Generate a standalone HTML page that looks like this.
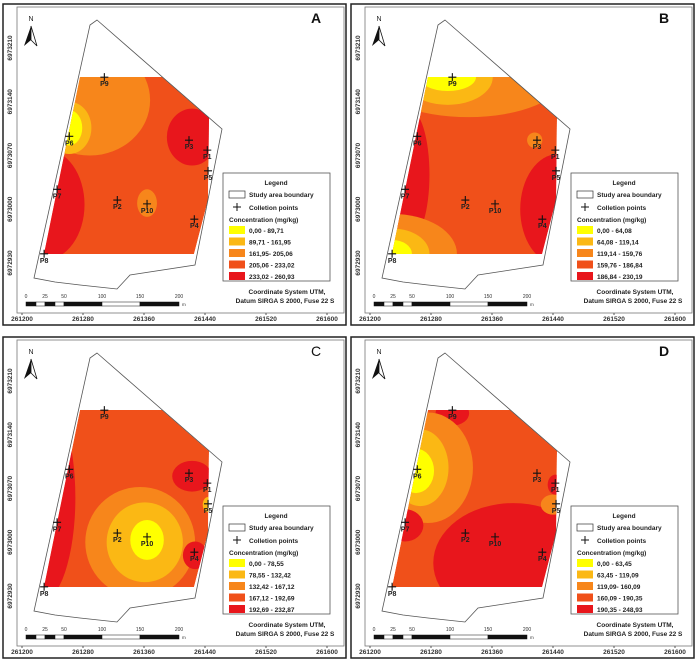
<!DOCTYPE html>
<html><head><meta charset="utf-8"><style>
html,body{margin:0;padding:0;background:#fff;}
svg{display:block;font-family:"Liberation Sans",Arial,sans-serif;}
</style></head><body>
<svg id="fig" width="700" height="665" viewBox="0 0 700 665"></svg>
<script>
// ---- data ----
const panelLetters = ["A","B","C","D"];
const panelOffsetsX = [0,348,0,348];
const panelOffsetsY = [0,0,333,333];
const classColors = ["#ffff00","#fbb814","#f7861b","#f0501a","#e8161c"];
const legendA = ["0,00 - 89,71","89,71 - 161,95","161,95- 205,06","205,06 - 233,02","233,02 - 260,93"];
const legendB = ["0,00 - 64,08","64,08 - 119,14","119,14 - 159,76","159,76 - 186,84","186,84 - 230,19"];
const legendC = ["0,00 - 78,55","78,55 - 132,42","132,42 - 167,12","167,12 - 192,69","192,69 - 232,87"];
const legendD = ["0,00 - 63,45","63,45 - 119,09","119,09- 160,09","160,09 - 190,35","190,35 - 248,93"];
const pointNames = ["P1","P2","P3","P4","P5","P6","P7","P8","P9","P10"];
const pointEasting = [261443,261325,261419,261426,261444,261262,261246,261229,261308,261364];
const pointNorthing = [6973077,6973012,6973090,6972987,6973050,6973095,6973026,6972942,6973172,6973007];
const xTicks = [261200,261280,261360,261440,261520,261600];
const yTicks = [6973210,6973140,6973070,6973000,6972930];
const baseClass = [3,3,3,3];
// contour blobs per panel: class, center easting, center northing, radius east (m), radius north (m)
const blobsA = [[2,261289,6973142,79,72],[1,261262,6973106,29,34],[0,261262,6973106,17,23],[4,261423,6973094,33,37],[4,261230,6973006,52,72],[2,261364,6973008,13,18]];
const blobsB = [[2,261329,6973172,125,52],[1,261302,6973172,59,36],[0,261302,6973172,37,18],[4,261252,6973045,26,85],[4,261447,6973000,50,72],[2,261416,6973090,10,10],[2,261229,6972942,85,52],[1,261229,6972942,49,33],[0,261229,6972942,26,18]];
const blobsC = [[4,261224,6973058,46,137],[2,261355,6973000,72,72],[1,261361,6973000,50,52],[0,261364,6973003,22,26],[4,261423,6973086,26,20],[4,261427,6972983,16,18],[1,261444,6973049,7,10]];
const blobsD = [[4,261308,6973168,22,16],[2,261276,6973097,59,72],[1,261266,6973097,37,50],[0,261260,6973093,24,29],[4,261388,6972973,105,78],[4,261246,6973022,24,21],[4,261443,6973075,10,13],[2,261440,6973049,16,13]];
const legends = [legendA,legendB,legendC,legendD];
const blobs = [blobsA,blobsB,blobsC,blobsD];

// ---- axis functions (local panel px) ----
function xS(e){return 22+(e-261200)*(327-22)/400;}
function yS(n){return 48+(6973210-n)*(263-48)/280;}
const NS="http://www.w3.org/2000/svg";
function mk(tag,attrs,parent){const el=document.createElementNS(NS,tag);for(const k in attrs)el.setAttribute(k,attrs[k]);parent.appendChild(el);return el;}
const fig=document.getElementById('fig');
const colorPoly="80,77 162,77 209,118 208,200 194,254 44,254";
const boundary="97,20 222,129 195,265 130,275 117,289 80,285 55,282 34,278 90,25";

for(let p=0;p<4;p++){
  const g=mk('g',{transform:`translate(${panelOffsetsX[p]},${panelOffsetsY[p]})`},fig);
  
  
  mk('rect',{x:3,y:4,width:343,height:321,fill:'#fff',stroke:'#222','stroke-width':1.5},g);
  mk('rect',{x:17,y:7,width:327,height:306,fill:'none',stroke:'#777','stroke-width':0.8},g);
  const cp=mk('clipPath',{id:'cp'+p},g);
  mk('polygon',{points:colorPoly},cp);
  const surf=mk('g',{'clip-path':`url(#cp${p})`},g);
  
  
  mk('polygon',{points:colorPoly,fill:classColors[baseClass[p]]},surf);
  blobs[p].forEach(b=>{
    const e=mk('ellipse',{cx:xS(b[1]),cy:yS(b[2]),rx:b[3]*(305/400),ry:b[4]*(215/280),fill:classColors[b[0]]},surf);
    
    
  });
  const bd=mk('polygon',{points:boundary,fill:'none',stroke:'#555','stroke-width':0.8},g);
  
  
  for(let i=0;i<pointNames.length;i++){
    const x=xS(pointEasting[i]),y=yS(pointNorthing[i]);
    const pg=mk('g',{},g);
    
    
    mk('path',{d:`M${x-4},${y}H${x+4}M${x},${y-4}V${y+4}`,stroke:'#111','stroke-width':1.1},pg);
    const t=mk('text',{x:x,y:y+9,'font-size':7,'font-weight':'bold','text-anchor':'middle',fill:'#222'},pg);
    t.textContent=pointNames[i];
  }
  xTicks.forEach(v=>{
    const t=mk('text',{x:xS(v),y:321,'font-size':6.5,'font-weight':'bold','text-anchor':'middle',fill:'#333'},g);
    
    
    t.textContent=v;
    mk('line',{x1:xS(v),x2:xS(v),y1:313,y2:315,stroke:'#555'},g);
  });
  yTicks.forEach(v=>{
    const y=yS(v);
    const t=mk('text',{x:0,y:0,transform:`translate(12,${y}) rotate(-90)`,'font-size':6.5,'font-weight':'bold','text-anchor':'middle',fill:'#333'},g);
    
    
    t.textContent=v;
  });
  const na=mk('g',{},g);
  
  
  mk('text',{x:31,y:21,'font-size':7,fill:'#222','text-anchor':'middle'},na).textContent='N';
  mk('polygon',{points:'31,26 24,46 31,40',fill:'#111'},na);
  mk('polygon',{points:'31,26 37,46 31,40',fill:'#fff',stroke:'#111','stroke-width':0.8},na);
  const lt=mk('text',{x:316,y:23,'font-size':14,'font-weight':p===2?'normal':'bold','text-anchor':'middle',fill:'#111'},g);
  
  
  lt.textContent=panelLetters[p];
  const lg=mk('g',{},g);
  
  
  mk('rect',{x:223,y:173,width:107,height:108,fill:'#fff',stroke:'#555','stroke-width':0.8},lg);
  mk('text',{x:276,y:185,'font-size':6.5,'font-weight':'bold','text-anchor':'middle',fill:'#222'},lg).textContent='Legend';
  mk('rect',{x:229,y:191,width:16,height:7,fill:'#fff',stroke:'#333','stroke-width':0.7},lg);
  mk('text',{x:249,y:197,'font-size':6.5,'font-weight':'bold',fill:'#222'},lg).textContent='Study area boundary';
  mk('path',{d:'M233,207H241M237,203V211',stroke:'#111','stroke-width':1},lg);
  mk('text',{x:249,y:210,'font-size':6.5,'font-weight':'bold',fill:'#222'},lg).textContent='Colletion points';
  mk('text',{x:229,y:222,'font-size':6.5,'font-weight':'bold',fill:'#222'},lg).textContent='Concentration (mg/kg)';
  legends[p].forEach((s,i)=>{
    const y=226+i*11.5;
    const r=mk('rect',{x:229,y:y,width:16,height:8,fill:classColors[i]},lg);
    
    
    mk('text',{x:249,y:y+7,'font-size':6.5,'font-weight':'bold',fill:'#222'},lg).textContent=s;
  });
  const sb=mk('g',{},g);
  
  
  const segs=[[26,36,1],[36,45,0],[45,55,1],[55,64,0],[64,102,1],[102,140,0],[140,179,1]];
  segs.forEach(s=>mk('rect',{x:s[0],y:302,width:s[1]-s[0],height:4,fill:s[2]?'#111':'#fff',stroke:'#111','stroke-width':0.5},sb));
  [[26,'0'],[45,'25'],[64,'50'],[102,'100'],[140,'150'],[179,'200']].forEach(a=>mk('text',{x:a[0],y:298,'font-size':5,'text-anchor':'middle',fill:'#333'},sb).textContent=a[1]);
  mk('text',{x:182,y:306,'font-size':4.5,fill:'#333'},sb).textContent='m';
  const ct=mk('text',{x:287,y:294,'font-size':6.5,'font-weight':'bold','text-anchor':'middle',fill:'#222'},g);
  
  
  ct.textContent='Coordinate System UTM,';
  mk('text',{x:285,y:303,'font-size':6.5,'font-weight':'bold','text-anchor':'middle',fill:'#222'},g).textContent='Datum SIRGA S 2000, Fuse 22 S';
}
</script>
</body></html>
